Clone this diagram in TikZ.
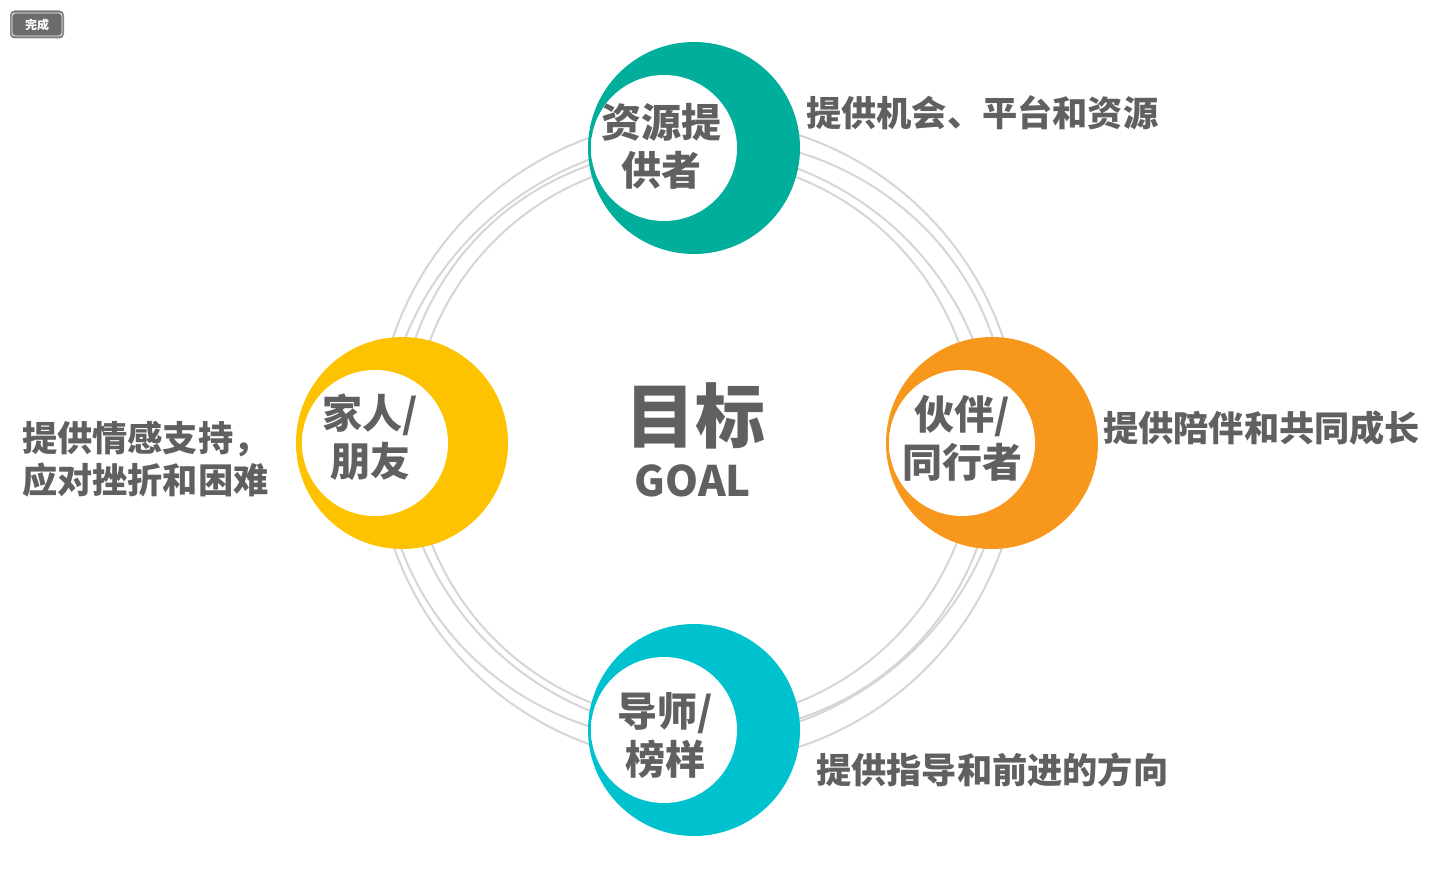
\documentclass[tikz,border=0pt]{standalone}
\usepackage{fontspec}
\setmainfont{Noto Sans CJK SC}
\definecolor{txt}{HTML}{606060}
\definecolor{ringc}{HTML}{D6D6D6}
\definecolor{cteal}{HTML}{00AE9B}
\definecolor{cyel}{HTML}{FDC300}
\definecolor{corg}{HTML}{F7981D}
\definecolor{ccyan}{HTML}{00C2CF}
\pgfdeclareradialshading{innersh}{\pgfpoint{-14bp}{14bp}}{color(0bp)=(white); color(34bp)=(white); color(58bp)=(black!13); color(80bp)=(black!13)}
\tikzset{
  ring/.style={draw=ringc, line width=2pt},
  outerc/.style={circle, minimum size=212pt, inner sep=0pt},
  innerc/.style={circle, minimum size=146pt, inner sep=0pt, shading=innersh},
  ctext/.style={text=txt, font=\bfseries\fontsize{40}{48}\selectfont, align=center, inner sep=0pt},
  side/.style={text=txt, font=\bfseries\fontsize{35.2}{42}\selectfont, align=left, inner sep=0pt},
}
\begin{document}
\begin{tikzpicture}[x=1pt,y=-1pt]
\useasboundingbox (0,0) rectangle (1440,877);
\fill[white] (0,0) rectangle (1440,877);
% button
\node[draw=black!45, fill=black!58, rounded corners=4pt, minimum width=53pt, minimum height=27pt, line width=1pt] (btn) at (37,24.5) {};
\draw[white, line width=0.8pt, rounded corners=3pt] (12,13) rectangle (62,36);
\node[text=white, font=\bfseries\fontsize{12}{14}\selectfont] (btnt) at (37,24.5) {完成};
% rings
\draw[ring] (698,441) circle (322);
\draw[ring] (696,440) ellipse [x radius=314, y radius=300, rotate=20];
\draw[ring] (697,441) ellipse [x radius=300, y radius=290, rotate=-30];
\draw[ring] (694,440) circle (282);
% circles
\node[outerc, fill=cteal] (top) at (694,148) {};
\node[innerc] (topi) at (664,148) {};
\node[outerc, fill=cyel] (left) at (402,443) {};
\node[innerc] (lefti) at (375,443) {};
\node[outerc, fill=corg] (right) at (992,443) {};
\node[innerc] (righti) at (962,443) {};
\node[outerc, fill=ccyan] (bot) at (694,730) {};
\node[innerc] (boti) at (664,730) {};
% circle texts
\node[ctext] (t1) at (661,146) {资源提\\供者};
\node[ctext] (t2) at (370,437) {家人/\\朋友};
\node[ctext] (t3) at (962,438) {伙伴/\\同行者};
\node[ctext] (t4) at (665,735) {导师/\\榜样};
% center
\node[text=txt, font=\bfseries\fontsize{70}{80}\selectfont, inner sep=0pt] (goal) at (695,416) {目标};
\node[text=txt, font=\bfseries\fontsize{42}{48}\selectfont, inner sep=0pt] (goale) at (693,481) {GOAL};
% side labels
\node[side, anchor=west] (s1) at (806,113) {提供机会、平台和资源};
\node[side, anchor=west] (s2) at (1103,428) {提供陪伴和共同成长};
\node[side, anchor=west] (s3) at (816,770) {提供指导和前进的方向};
\node[side, anchor=west] (s4) at (22,459) {提供情感支持，\\应对挫折和困难};
\end{tikzpicture}
\end{document}
